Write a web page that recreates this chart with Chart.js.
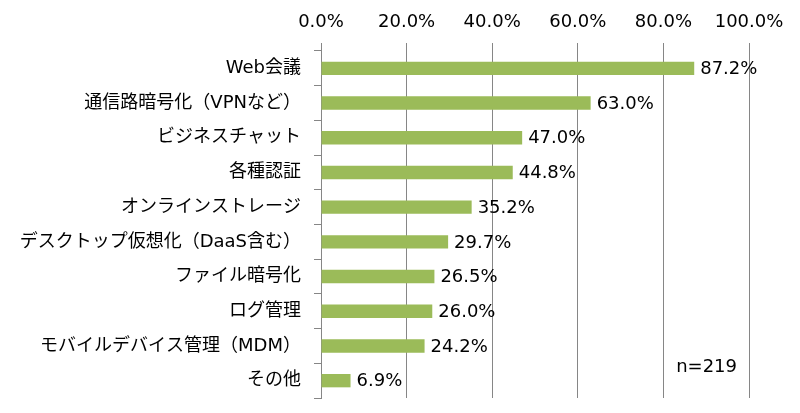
<!DOCTYPE html>
<html>
<head>
<meta charset="utf-8">
<script src="https://cdn.jsdelivr.net/npm/chart.js@4/dist/chart.umd.min.js"></script>
<style>
  html, body { margin: 0; padding: 0; background: #fff; }
  #wrap { width: 800px; height: 413px; }
</style>
</head>
<body>
<div id="wrap"><canvas id="chart"></canvas></div>
<script>
// データ
const categories = [
  'Web会議',
  '通信路暗号化（VPNなど）',
  'ビジネスチャット',
  '各種認証',
  'オンラインストレージ',
  'デスクトップ仮想化（DaaS含む）',
  'ファイル暗号化',
  'ログ管理',
  'モバイルデバイス管理（MDM）',
  'その他'
];
const values = [87.2, 63.0, 47.0, 44.8, 35.2, 29.7, 26.5, 26.0, 24.2, 6.9];
const tickValues = [0, 20, 40, 60, 80, 100];
const sampleNote = 'n=219';

const FONT = '"DejaVu Sans", "Noto Sans CJK JP", sans-serif';
const TEXT = '#000000';
const GRID = '#868686';
const BAR = '#9BBB59';

// 棒の右にラベル + n表示
const labelPlugin = {
  id: 'barLabels',
  afterDatasetsDraw(chart) {
    const { ctx, chartArea } = chart;
    const meta = chart.getDatasetMeta(0);
    ctx.save();
    ctx.font = '18px ' + FONT;
    ctx.fillStyle = TEXT;
    ctx.textBaseline = 'middle';
    ctx.textAlign = 'left';
    meta.data.forEach((bar, i) => {
      ctx.fillText(values[i].toFixed(1) + '%', bar.x + 6, bar.y + 1);
    });
    ctx.textAlign = 'right';
    ctx.fillText(sampleNote, chartArea.right - 12, chartArea.bottom - 31);
    ctx.restore();
  }
};

new Chart(document.getElementById('chart'), {
  type: 'bar',
  data: {
    labels: categories,
    datasets: [{
      data: values,
      backgroundColor: BAR,
      borderWidth: 0,
      categoryPercentage: 1,
      barPercentage: 0.385
    }]
  },
  options: {
    indexAxis: 'y',
    responsive: true,
    maintainAspectRatio: false,
    animation: false,
    layout: { padding: { left: 0, right: 51, top: 0, bottom: 15 } },
    plugins: {
      legend: { display: false },
      tooltip: { enabled: false }
    },
    scales: {
      x: {
        position: 'top',
        min: 0,
        max: 100,
        afterBuildTicks(axis) {
          axis.ticks = tickValues.map(v => ({ value: v }));
        },
        afterFit(axis) {
          axis.height = 51;
          axis.paddingLeft = 0;
          axis.paddingRight = 0;
        },
        ticks: {
          color: TEXT,
          font: { family: FONT, size: 18 },
          padding: 10,
          callback: v => v.toFixed(1) + '%'
        },
        grid: { color: GRID, tickLength: 8 },
        border: { display: false }
      },
      y: {
        afterFit(axis) {
          axis.width = 321;
          axis.paddingTop = 0;
          axis.paddingBottom = 0;
        },
        ticks: {
          color: TEXT,
          font: { family: FONT, size: 18 },
          padding: 13
        },
        grid: {
          offset: true,
          drawOnChartArea: false,
          tickLength: 7,
          color: GRID
        },
        border: { color: GRID }
      }
    }
  },
  plugins: [labelPlugin]
});
</script>
</body>
</html>
